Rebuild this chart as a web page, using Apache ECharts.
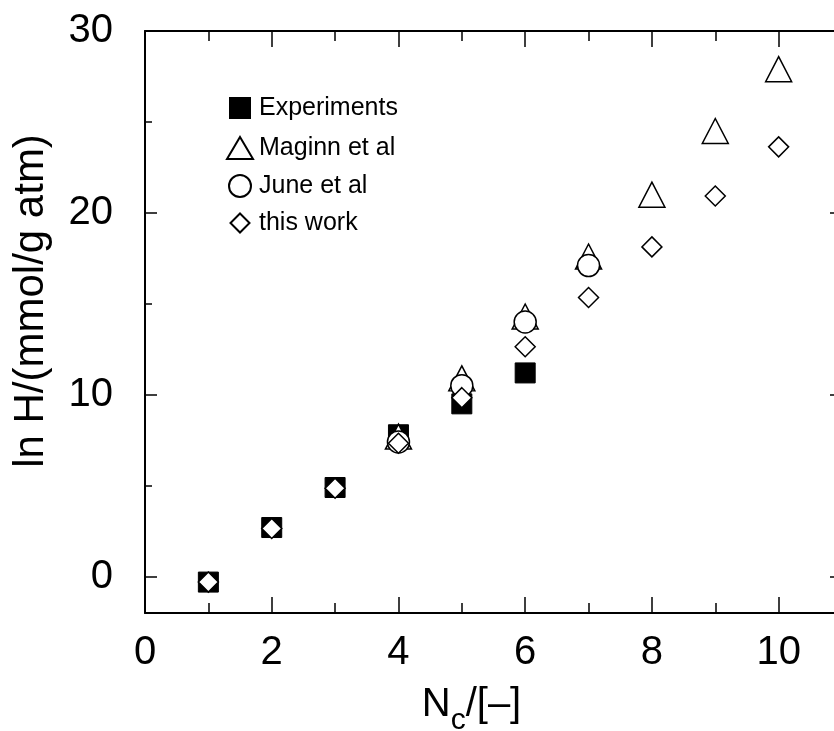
<!DOCTYPE html>
<html>
<head>
<meta charset="utf-8">
<script src="https://cdn.jsdelivr.net/npm/echarts@6/dist/echarts.min.js"></script>
<style>
  html, body { margin: 0; padding: 0; background: #fff; }
  #chart { width: 834px; height: 731px; }
</style>
</head>
<body>
<div id="chart"></div>
<script>
// Henry coefficients of n-alkanes vs. carbon number
const carbonNumber = [1, 2, 3, 4, 5, 6, 7, 8, 9, 10];
const experiments = [-0.3, 2.7, 4.9, 7.8, 9.5, 11.2];                          // Nc = 1..6
const maginnNc = [4, 5, 6, 7, 8, 9, 10];
const maginn = [7.7, 10.9, 14.3, 17.6, 21.0, 24.5, 27.9];
const juneNc = [4, 5, 6, 7];
const june = [7.4, 10.5, 14.0, 17.1];
const thisWork = [-0.3, 2.65, 4.86, 7.33, 9.84, 12.64, 15.35, 18.13, 20.93, 23.63]; // Nc = 1..10

const xMajorTicks = [0, 2, 4, 6, 8, 10];
const xMinorTicks = [1, 3, 5, 7, 9];
const yMajorTicks = [0, 10, 20, 30];
const yMinorTicks = [5, 15, 25];

const seriesNames = ['Experiments', 'Maginn et al', 'June et al', 'this work'];

const FONT = "'Liberation Sans', Arial, sans-serif";
const X_MIN = 0, X_MAX = 11, Y_MIN = -2, Y_MAX = 30;

function pairs(xs, ys) { return ys.map((v, i) => [xs[i], v]); }

function xAxisDef(position, ticks, len, opts) {
  return Object.assign({
    type: 'value', position: position, min: X_MIN, max: X_MAX,
    axisLine: { show: true, onZero: false, lineStyle: { color: '#000', width: 2 } },
    axisTick: { show: true, inside: true, length: len, customValues: ticks,
                lineStyle: { color: '#000', width: 1.5 } },
    axisLabel: { show: false },
    splitLine: { show: false }
  }, opts || {});
}
function yAxisDef(position, ticks, len, opts) {
  return Object.assign({
    type: 'value', position: position, min: Y_MIN, max: Y_MAX,
    axisLine: { show: true, onZero: false, lineStyle: { color: '#000', width: 2 } },
    axisTick: { show: true, inside: true, length: len, customValues: ticks,
                lineStyle: { color: '#000', width: 1.5 } },
    axisLabel: { show: false },
    splitLine: { show: false }
  }, opts || {});
}
const noLine = { show: false, onZero: false };

const hollow = { color: '#fff', borderColor: '#000', borderWidth: 1.5, opacity: 1 };

function legendRow(name, icon, w, h, centerY) {
  return {
    data: [{ name: name, icon: icon }],
    left: 239 - w / 2, top: centerY - 14, padding: 0,
    itemWidth: w, itemHeight: h, itemGap: 0,
    selectedMode: false,
    textStyle: { fontFamily: FONT, fontSize: 25, color: '#000', lineHeight: 28,
                 padding: [0, 0, 0, 258 - (239 + w / 2) - 5] }
  };
}

const chart = echarts.init(document.getElementById('chart'));
chart.setOption({
  animation: false,
  backgroundColor: '#fff',
  // plot frame runs past the right edge of the canvas
  grid: { left: 145, top: 31, width: 697, height: 582, outerBoundsMode: 'none', containLabel: false },
  legend: [
    legendRow(seriesNames[0], 'rect', 20, 20, 108),
    legendRow(seriesNames[1], 'triangle', 26, 22, 148),
    legendRow(seriesNames[2], 'circle', 22, 22, 186),
    legendRow(seriesNames[3], 'diamond', 19, 19, 223)
  ],
  xAxis: [
    xAxisDef('bottom', xMajorTicks, 16, {
      axisLabel: { show: true, customValues: xMajorTicks, margin: 20,
                   fontFamily: FONT, fontSize: 40, color: '#000' },
      name: '{n|N}{s|c}{n|/[–]}',
      nameLocation: 'middle', nameGap: 61,
      nameTextStyle: {
        fontFamily: FONT, color: '#000', padding: [0, 44, 0, 0],
        rich: {
          n: { fontFamily: FONT, fontSize: 40, color: '#000' },
          s: { fontFamily: FONT, fontSize: 30, color: '#000', padding: [32, 0, 0, 0] }
        }
      }
    }),
    xAxisDef('bottom', xMinorTicks, 10, { axisLine: noLine }),
    xAxisDef('top', xMajorTicks, 16),
    xAxisDef('top', xMinorTicks, 10, { axisLine: noLine })
  ],
  yAxis: [
    yAxisDef('left', yMajorTicks, 12, {
      axisLabel: { show: true, customValues: yMajorTicks, margin: 32,
                   fontFamily: FONT, fontSize: 40, color: '#000' },
      name: 'ln H/(mmol/g atm)',
      nameLocation: 'middle', nameGap: 93,
      nameTextStyle: { fontFamily: FONT, fontSize: 42, color: '#000', padding: [0, 0, 0, 42] }
    }),
    yAxisDef('left', yMinorTicks, 7, { axisLine: noLine }),
    yAxisDef('right', yMajorTicks, 12),
    yAxisDef('right', yMinorTicks, 7, { axisLine: noLine })
  ],
  series: [
    {
      name: seriesNames[0], type: 'scatter', symbol: 'rect', symbolSize: 20,
      itemStyle: { color: '#000', borderColor: '#000', borderWidth: 1, opacity: 1 },
      data: pairs(carbonNumber, experiments)
    },
    {
      name: seriesNames[1], type: 'scatter', symbol: 'triangle', symbolSize: [26, 25],
      itemStyle: hollow,
      data: pairs(maginnNc, maginn)
    },
    {
      name: seriesNames[2], type: 'scatter', symbol: 'circle', symbolSize: 22,
      itemStyle: hollow,
      data: pairs(juneNc, june)
    },
    {
      name: seriesNames[3], type: 'scatter', symbol: 'diamond', symbolSize: 20,
      itemStyle: hollow,
      data: pairs(carbonNumber, thisWork)
    }
  ]
});
</script>
</body>
</html>
